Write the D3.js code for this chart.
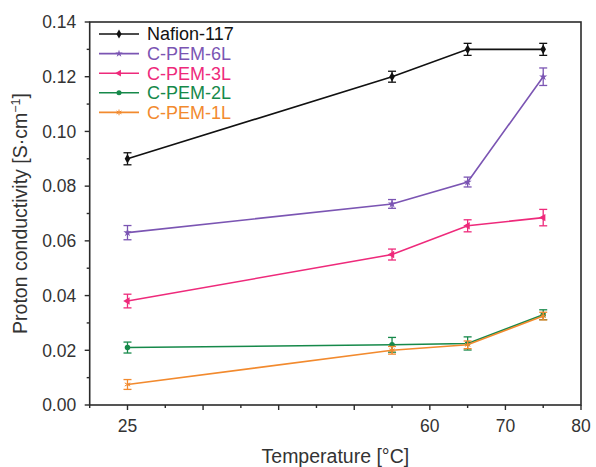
<!DOCTYPE html>
<html>
<head>
<meta charset="utf-8">
<script src="https://cdn.jsdelivr.net/npm/d3@7"></script>
<style>
  html, body { margin: 0; padding: 0; background: #fff; }
  svg { display: block; font-family: "Liberation Sans", Arial, sans-serif; }
</style>
</head>
<body>
<svg id="chart" width="596" height="467"></svg>
<script>
// Temperatures measured (°C)
const temperatures = [25, 55, 65, 75];

// Series names and colours
const seriesNames = ["Nafion-117", "C-PEM-6L", "C-PEM-3L", "C-PEM-2L", "C-PEM-1L"];
const seriesColors = ["#111111", "#7b55b3", "#ee2a7b", "#16894a", "#f28a2e"];

// Proton conductivity (S·cm⁻¹) per series
const nafion117 = [0.090, 0.120, 0.130, 0.130];
const cpem6L    = [0.063, 0.0735, 0.0815, 0.120];
const cpem3L    = [0.038, 0.055, 0.0655, 0.0685];
const cpem2L    = [0.021, 0.022, 0.0225, 0.033];
const cpem1L    = [0.0075, 0.020, 0.022, 0.0325];

// Error bar half-heights (S·cm⁻¹)
const nafion117Err = [0.0022, 0.0020, 0.0022, 0.0022];
const cpem6LErr    = [0.0026, 0.0016, 0.0018, 0.0032];
const cpem3LErr    = [0.0025, 0.0020, 0.0022, 0.0030];
const cpem2LErr    = [0.0020, 0.0027, 0.0024, 0.0018];
const cpem1LErr    = [0.0018, 0.0014, 0.0014, 0.0014];

// Axis ticks
const xMajorTicks = [25, 30, 40, 50, 60, 70, 80];
const xTickLabels = { 25: "25", 60: "60", 70: "70", 80: "80" };
const xMinorTicks = [20, 27.5, 35, 45, 55, 65, 75];
const yMajorTicks = [0, 0.02, 0.04, 0.06, 0.08, 0.10, 0.12, 0.14];
const yMinorTicks = [0.01, 0.03, 0.05, 0.07, 0.09, 0.11, 0.13];

const seriesValues = [nafion117, cpem6L, cpem3L, cpem2L, cpem1L];
const seriesErrors = [nafion117Err, cpem6LErr, cpem3LErr, cpem2LErr, cpem1LErr];
const seriesSymbols = ["diamond", "star", "triangleLeft", "circle", "asterisk"];

const svg = d3.select("#chart");
const plotL = 89.7, plotR = 581, plotT = 22, plotB = 405;
const axisColor = "#2b2b2b";
const textColor = "#333333";

// Temperature axis with a compressed segment between 25 and 30 °C
const h = (plotR - plotL) / 13;
const x = d3.scaleLinear()
  .domain([20, 25, 30, 80])
  .range([plotL, plotL + h, plotL + 3 * h, plotL + 13 * h]);
const y = d3.scaleLinear().domain([0, 0.14]).range([plotB, plotT]);

// Frame
svg.append("rect")
  .attr("x", plotL).attr("y", plotT)
  .attr("width", plotR - plotL).attr("height", plotB - plotT)
  .attr("fill", "none").attr("stroke", axisColor).attr("stroke-width", 1.6);

// Y ticks
const yAxis = svg.append("g").attr("stroke", axisColor).attr("stroke-width", 1.4);
yAxis.selectAll("line.maj").data(yMajorTicks).join("line")
  .attr("x1", plotL - 5).attr("x2", plotL)
  .attr("y1", d => y(d)).attr("y2", d => y(d));
yAxis.selectAll("line.min").data(yMinorTicks).join("line")
  .attr("x1", plotL - 3).attr("x2", plotL)
  .attr("y1", d => y(d)).attr("y2", d => y(d));
svg.append("g").selectAll("text").data(yMajorTicks).join("text")
  .attr("x", plotL - 13.5).attr("y", d => y(d))
  .attr("dy", "0.36em")
  .attr("text-anchor", "end")
  .attr("font-size", 17.5).attr("fill", textColor)
  .text(d => d3.format(".2f")(d));

// X ticks
const xAxis = svg.append("g").attr("stroke", axisColor).attr("stroke-width", 1.4);
xAxis.selectAll("line.maj").data(xMajorTicks).join("line")
  .attr("x1", d => x(d)).attr("x2", d => x(d))
  .attr("y1", plotB).attr("y2", plotB + 5);
xAxis.selectAll("line.min").data(xMinorTicks).join("line")
  .attr("x1", d => x(d)).attr("x2", d => x(d))
  .attr("y1", plotB).attr("y2", plotB + 3);
svg.append("g").selectAll("text").data(xMajorTicks.filter(d => xTickLabels[d])).join("text")
  .attr("x", d => x(d)).attr("y", plotB + 27)
  .attr("text-anchor", "middle")
  .attr("font-size", 17.5).attr("fill", textColor)
  .text(d => xTickLabels[d]);

// Axis titles
svg.append("text")
  .attr("x", (plotL + plotR) / 2).attr("y", 463)
  .attr("text-anchor", "middle")
  .attr("font-size", 19.5).attr("fill", textColor)
  .text("Temperature [°C]");

const yTitle = svg.append("text")
  .attr("transform", `translate(27,${(plotT + plotB) / 2}) rotate(-90)`)
  .attr("text-anchor", "middle")
  .attr("font-size", 19.5).attr("fill", textColor);
yTitle.append("tspan").text("Proton conductivity [S·cm");
yTitle.append("tspan").attr("dy", -7).attr("font-size", 12.5).text("−1");
yTitle.append("tspan").attr("dy", 7).text("]");

// Marker generator
function marker(sel, kind, color, size) {
  const s = size;
  if (kind === "diamond") {
    sel.append("path").attr("d", d3.symbol(d3.symbolDiamond, s * 9)()).attr("fill", color);
  } else if (kind === "star") {
    sel.append("path").attr("d", d3.symbol(d3.symbolStar, s * 7)()).attr("fill", color);
  } else if (kind === "triangleLeft") {
    sel.append("path").attr("d", d3.symbol(d3.symbolTriangle, s * 8)())
      .attr("transform", "rotate(-90)").attr("fill", color);
  } else if (kind === "circle") {
    sel.append("path").attr("d", d3.symbol(d3.symbolCircle, s * 8)()).attr("fill", color);
  } else {
    sel.append("path").attr("d", d3.symbol(d3.symbolAsterisk, s * 9)())
      .attr("fill", "none").attr("stroke", color).attr("stroke-width", 1);
  }
}

const line = d3.line().x(d => x(d[0])).y(d => y(d[1]));

// Series: lines, error bars, markers
seriesValues.forEach((vals, i) => {
  const color = seriesColors[i];
  const errs = seriesErrors[i];
  const pts = temperatures.map((t, j) => [t, vals[j], errs[j]]);
  const g = svg.append("g");
  g.append("path").datum(pts)
    .attr("d", line).attr("fill", "none")
    .attr("stroke", color).attr("stroke-width", 1.6);
  const eb = g.selectAll("g.eb").data(pts).join("g")
    .attr("stroke", color).attr("stroke-width", 1.3);
  eb.append("line")
    .attr("x1", d => x(d[0])).attr("x2", d => x(d[0]))
    .attr("y1", d => y(d[1] - d[2])).attr("y2", d => y(d[1] + d[2]));
  eb.append("line")
    .attr("x1", d => x(d[0]) - 4).attr("x2", d => x(d[0]) + 4)
    .attr("y1", d => y(d[1] - d[2])).attr("y2", d => y(d[1] - d[2]));
  eb.append("line")
    .attr("x1", d => x(d[0]) - 4).attr("x2", d => x(d[0]) + 4)
    .attr("y1", d => y(d[1] + d[2])).attr("y2", d => y(d[1] + d[2]));
  g.selectAll("g.m").data(pts).join("g")
    .attr("transform", d => `translate(${x(d[0])},${y(d[1])})`)
    .each(function () { marker(d3.select(this), seriesSymbols[i], color, 3); });
});

// Legend
const legend = svg.append("g");
seriesNames.forEach((name, i) => {
  const ly = 34 + i * 19.6;
  const row = legend.append("g");
  row.append("line")
    .attr("x1", 99).attr("x2", 139).attr("y1", ly).attr("y2", ly)
    .attr("stroke", seriesColors[i]).attr("stroke-width", 1.6);
  const m = row.append("g").attr("transform", `translate(119,${ly})`);
  marker(m, seriesSymbols[i], seriesColors[i], 2.5);
  row.append("text")
    .attr("x", 147).attr("y", ly).attr("dy", "0.36em")
    .attr("font-size", 18).attr("fill", seriesColors[i])
    .text(name);
});
</script>
</body>
</html>
